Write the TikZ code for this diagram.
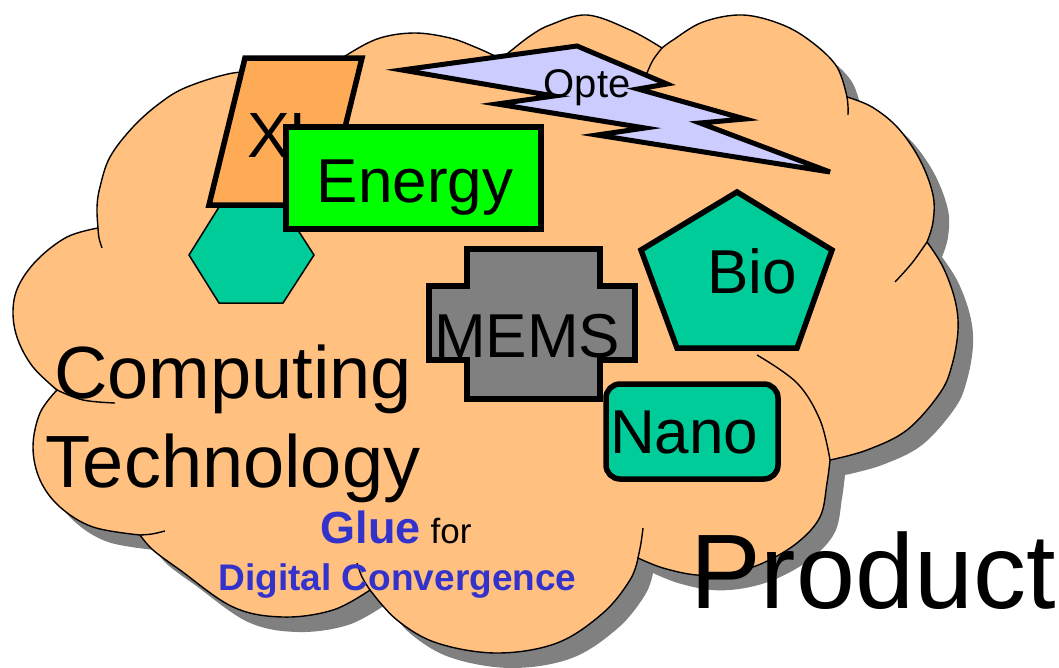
\documentclass[tikz,border=0pt]{standalone}
\usepackage{fontspec}
\setmainfont{Liberation Sans}
\definecolor{cloudfill}{RGB}{255,192,128}
\definecolor{shadowgray}{RGB}{128,128,128}
\definecolor{xlfill}{RGB}{255,170,85}
\definecolor{tealfill}{RGB}{0,204,153}
\definecolor{boltfill}{RGB}{204,204,255}
\definecolor{energyfill}{RGB}{0,255,0}
\definecolor{gluebl}{RGB}{51,51,204}
\begin{document}
\begin{tikzpicture}[x=1pt,y=-1pt,
  shapeline/.style={draw=black, line width=5.5pt, line join=miter},
  bigtxt/.style={inner sep=0pt, font=\fontsize{62}{62}\selectfont},
  cloudline/.style={draw=black, line width=1.4pt},
  lobe/.style={smooth, tension=0.6}]
\useasboundingbox (0,0) rectangle (1059,667);

% shadow
\fill[shadowgray, shift={(15,15)}] (57,390)
  -- plot[lobe] coordinates {(57,390) (33,367) (18,340) (13,313) (18,287) (37,260) (67,237) (98,228)}
  -- plot[lobe] coordinates {(98,228) (97,207) (100,187) (110,157) (133,127) (160,103) (187,87) (233,73) (265,74) (290,80) (312,88)}
  -- plot[lobe] coordinates {(312,88) (330,68) (350,53) (380,38) (415,33) (450,38) (475,47) (493,55) (500,58)}
  -- plot[lobe] coordinates {(500,58) (508,53) (530,36) (550,25) (587,15) (630,30) (662,48)}
  -- plot[lobe] coordinates {(662,48) (673,40) (703,22) (743,15) (783,25) (813,43) (837,67) (847,97)}
  -- plot[lobe] coordinates {(847,97) (872,107) (898,128) (920,160) (933,195) (933,222) (927,242)}
  -- plot[lobe] coordinates {(927,242) (943,267) (955,300) (958,330) (952,365) (940,393) (907,430) (867,450) (830,460)}
  -- plot[lobe] coordinates {(830,460) (827,483) (820,517) (797,543) (763,563) (730,573) (697,575) (663,568) (638,558)}
  -- plot[lobe] coordinates {(638,558) (630,580) (603,613) (557,643) (497,653) (437,643) (397,620) (370,590)}
  -- plot[lobe] coordinates {(370,590) (333,610) (283,617) (233,607) (180,570) (153,550) (140,535)}
  -- plot[lobe] coordinates {(140,535) (93,527) (60,507) (40,480) (33,447) (40,413) (57,390)}
  -- cycle;

% cloud
\path[cloudline, fill=cloudfill] (57,390)
  -- plot[lobe] coordinates {(57,390) (33,367) (18,340) (13,313) (18,287) (37,260) (67,237) (98,228)}
  -- plot[lobe] coordinates {(98,228) (97,207) (100,187) (110,157) (133,127) (160,103) (187,87) (233,73) (265,74) (290,80) (312,88)}
  -- plot[lobe] coordinates {(312,88) (330,68) (350,53) (380,38) (415,33) (450,38) (475,47) (493,55) (500,58)}
  -- plot[lobe] coordinates {(500,58) (508,53) (530,36) (550,25) (587,15) (630,30) (662,48)}
  -- plot[lobe] coordinates {(662,48) (673,40) (703,22) (743,15) (783,25) (813,43) (837,67) (847,97)}
  -- plot[lobe] coordinates {(847,97) (872,107) (898,128) (920,160) (933,195) (933,222) (927,242)}
  -- plot[lobe] coordinates {(927,242) (943,267) (955,300) (958,330) (952,365) (940,393) (907,430) (867,450) (830,460)}
  -- plot[lobe] coordinates {(830,460) (827,483) (820,517) (797,543) (763,563) (730,573) (697,575) (663,568) (638,558)}
  -- plot[lobe] coordinates {(638,558) (630,580) (603,613) (557,643) (497,653) (437,643) (397,620) (370,590)}
  -- plot[lobe] coordinates {(370,590) (333,610) (283,617) (233,607) (180,570) (153,550) (140,535)}
  -- plot[lobe] coordinates {(140,535) (93,527) (60,507) (40,480) (33,447) (40,413) (57,390)}
  -- cycle;

% inner tails of the cloud lobes
\draw[cloudline] plot[lobe] coordinates {(57,390) (83,400) (115,403)};
\draw[cloudline] plot[lobe] coordinates {(98,228) (99,238) (102,248)};
\draw[cloudline] plot[lobe] coordinates {(140,535) (152,534) (165,531)};
\draw[cloudline] plot[lobe] coordinates {(370,590) (362,577) (357,563)};
\draw[cloudline] plot[lobe] coordinates {(638,558) (641,543) (643,528)};
\draw[cloudline] plot[lobe] coordinates {(830,460) (820,420) (797,383) (757,355)};
\draw[cloudline] plot[lobe] coordinates {(927,242) (912,263) (895,282)};
\draw[cloudline] plot[lobe] coordinates {(847,97) (848,106) (848,115)};
\draw[cloudline] plot[lobe] coordinates {(662,48) (653,60) (647,73)};

% hexagon
\draw[fill=tealfill, line width=1.5pt] (189,255) -- (219,207) -- (283,207) -- (314,255) -- (283,303) -- (219,303) -- cycle;

% XL parallelogram
\draw[shapeline, fill=xlfill] (245,58) -- (362,58) -- (326,205) -- (209,205) -- cycle;
\node[inner sep=0pt, font=\fontsize{64}{64}\selectfont, anchor=base west] (xl) at (247,157) {XL};

% Energy
\draw[shapeline, fill=energyfill] (286,127) rectangle (541,229);
\node[bigtxt, anchor=base] (energy) at (415,202) {Energy};

% lightning bolt
\draw[line width=5pt, line join=miter, miter limit=8, fill=boltfill]
  (577,46) -- (402,70) -- (554,96) -- (497,104) -- (645,128) -- (597,135)
  -- (830,172) -- (700,123) -- (745,119) -- (638,89) -- (667,84) -- cycle;
\node[inner sep=0pt, font=\fontsize{40}{40}\selectfont, anchor=base] (opte) at (587,97) {Opte};

% MEMS cross
\draw[shapeline, fill=shadowgray] (467,249) -- (600,249) -- (600,286) -- (635,286) -- (635,360)
  -- (600,360) -- (600,399) -- (467,399) -- (467,360) -- (429,360) -- (429,286) -- (467,286) -- cycle;
\node[bigtxt, anchor=base] (mems) at (527,357) {MEMS};

% Bio pentagon
\draw[shapeline, fill=tealfill] (737,192) -- (832,250) -- (797,348) -- (677,348) -- (641,250) -- cycle;
\node[bigtxt, anchor=base west] (bio) at (707,293) {Bio};

% Nano
\draw[shapeline, fill=tealfill, rounded corners=14pt] (606,384) rectangle (778,479);
\node[bigtxt, anchor=base west] (nano) at (610,453) {Nano};

% texts
\node[inner sep=0pt, font=\fontsize{74}{74}\selectfont, anchor=base] (comp) at (233,398) {Computing};
\node[inner sep=0pt, font=\fontsize{74}{74}\selectfont, anchor=base] (tech) at (233,487) {Technology};
\node[inner sep=0pt, anchor=base] (glue) at (396,543)
  {{\fontsize{45}{45}\selectfont\bfseries\color{gluebl}Glue}\hspace{10pt}{\fontsize{35}{35}\selectfont for}};
\node[inner sep=0pt, anchor=base, text=gluebl, font=\fontsize{37}{37}\selectfont\bfseries] (digital) at (397.5,590) {Digital Convergence};
\node[inner sep=0pt, anchor=base west, font=\fontsize{106}{106}\selectfont] (product) at (690,608) {Product};
\end{tikzpicture}
\end{document}
